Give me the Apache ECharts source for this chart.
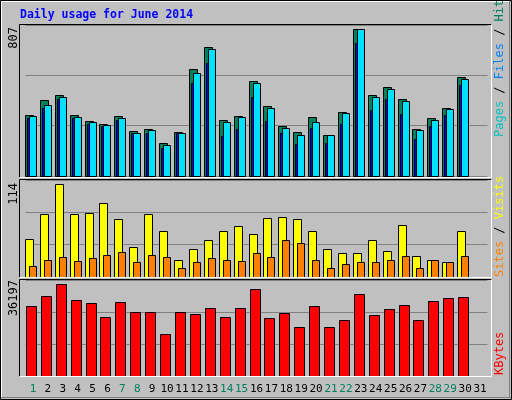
<!DOCTYPE html>
<html><head><meta charset="utf-8">
<script src="https://cdn.jsdelivr.net/npm/echarts@6/dist/echarts.min.js"></script>
<style>html,body{margin:0;padding:0;background:#c0c0c0}#c{width:512px;height:400px}</style>
</head><body><div id="c"></div>
<script>
const days = Array.from({length:31},(_,i)=>String(i+1));
const weekend = [1,7,8,14,15,21,22,28,29];
const hits  = [333,417,443,333,300,284,328,245,256,179,240,586,707,306,328,520,383,273,240,322,223,350,807,443,487,421,256,317,372,542];
const files = [328,388,437,322,295,278,317,234,251,168,234,569,696,295,322,509,372,262,223,295,223,344,807,432,481,410,251,306,366,536];
const pages = [317,372,421,317,284,273,306,234,234,152,234,514,624,218,256,437,300,234,174,262,179,284,734,361,421,339,201,273,333,498];
const visits = [47,78,114,78,79,91,71,37,78,56,21,34,45,57,63,53,73,74,71,56,35,29,29,46,32,64,26,21,18,56];
const sites  = [13,21,25,20,23,27,31,19,27,25,11,19,23,21,20,29,24,45,42,21,11,16,19,18,21,26,11,21,19,26];
const kbytes = [27477,31440,36197,29855,28666,23118,29062,25099,25099,16777,25099,24306,26684,23118,26684,34215,22721,24702,19155,27477,19155,21929,32233,23911,26288,27873,21929,29459,30648,31044];
const maxLabels = ['807','114','36197'];

const chart = echarts.init(document.getElementById('c'));
function rend(o0,o1,color){
  return function(params,api){
    const i=api.value(0), v=api.value(1);
    const c=api.coord([i,v]), b=api.coord([i,0]);
    return {type:'rect',shape:{x:Math.round(c[0]+o0)+0.5,y:Math.round(c[1])+0.5,width:o1-o0,height:Math.round(b[1]-c[1])},
      style:{fill:color,stroke:'#000',lineWidth:1}};
  };
}
const pts = a => a.map((v,i)=>[i,v]);
const L=25.5, W=462;
const grids=[{left:L,width:W,top:25,height:151},{left:L,width:W,top:180,height:97},{left:L,width:W,top:280,height:96}];
const ymax=[830.7,119.3,37900];
const mono='DejaVu Sans Mono';
function rline(x1,y1,x2,y2,c){return {type:'line',shape:{x1,y1,x2,y2},style:{stroke:c,lineWidth:1},z:100};}
const g=[];
// outer frame
g.push({type:'rect',shape:{x:0.5,y:0.5,width:511,height:399},style:{fill:null,stroke:'#000',lineWidth:1},z:100});
g.push(rline(1.5,1.5,510,1.5,'#fff'),rline(1.5,1.5,1.5,398,'#fff'));
g.push(rline(1,397.5,511,397.5,'#808080'),rline(509.5,1,509.5,398,'#808080'));
// panel frames
[[24.5,177.5],[179.5,277.5],[279.5,376.5]].forEach(([t,b])=>{
  g.push(rline(19.5,t,491.5,t,'#000'),rline(19.5,t,19.5,b,'#000'));
  g.push(rline(19.5,b,491.5,b,'#fff'),rline(491.5,t,491.5,b,'#fff'));
});
g.push({type:'text',x:20,y:9,style:{text:'Daily usage for June 2014',font:'bold 11.5px '+mono,fill:'#0000ff'},z:100});
[[14,27],[14,183],[14,280]].forEach(([x,y],k)=>{
  g.push({type:'text',x:x,y:y,rotation:Math.PI/2,style:{text:maxLabels[k],font:'12px '+mono,fill:'#000',align:'right',verticalAlign:'middle'},z:100});
});
function rtext(y,rich,text){
  g.push({type:'text',x:500,y:y,rotation:Math.PI/2,style:{text:text,rich:rich,font:'12px '+mono,align:'left',verticalAlign:'middle'},z:100});
}
rtext(137,{p:{fill:'#00c0c0',font:'12px '+mono},s:{fill:'#000',font:'12px '+mono},f:{fill:'#0080ff',font:'12px '+mono},h:{fill:'#00805c',font:'12px '+mono}},'{p|Pages}{s| / }{f|Files}{s| / }{h|Hits}');
rtext(277,{a:{fill:'#ff8000',font:'12px '+mono},s:{fill:'#000',font:'12px '+mono},b:{fill:'#ffff00',font:'12px '+mono}},'{a|Sites}{s| / }{b|Visits}');
rtext(375,{r:{fill:'#ff0000',font:'12px '+mono}},'{r|KBytes}');

const xAxes=grids.map((_,k)=>({type:'category',gridIndex:k,data:days,
  axisLine:{show:false},axisTick:{show:false},
  axisLabel:k<2?{show:false}:{margin:8,interval:0,fontFamily:mono,fontSize:11,
    formatter:v=>weekend.includes(+v)?'{w|'+v+'}':'{n|'+v+'}',
    rich:{w:{color:'#00805c',fontFamily:mono,fontSize:11},n:{color:'#000',fontFamily:mono,fontSize:11}}}}));
const yAxes=grids.map((_,k)=>({type:'value',gridIndex:k,min:0,max:ymax[k],interval:ymax[k]/3,
  axisLabel:{show:false},axisLine:{show:false},axisTick:{show:false},splitLine:{show:true,lineStyle:{color:'#808080',width:1}}}));
const S=(k,d,o0,o1,c)=>({type:'custom',xAxisIndex:k,yAxisIndex:k,data:pts(d),renderItem:rend(o0,o1,c),animation:false});
chart.setOption({
  backgroundColor:'#c0c0c0',animation:false,
  grid:grids,xAxis:xAxes,yAxis:yAxes,
  series:[
    S(0,hits,-8,0,'#00805c'),S(0,pages,-6,-2,'#0000ff'),S(0,files,-4,3,'#00e0ff'),
    S(1,visits,-8,0,'#ffff00'),S(1,sites,-4,3,'#ff8000'),
    S(2,kbytes,-7,3,'#ff0000')
  ],
  graphic:g
});
</script></body></html>
